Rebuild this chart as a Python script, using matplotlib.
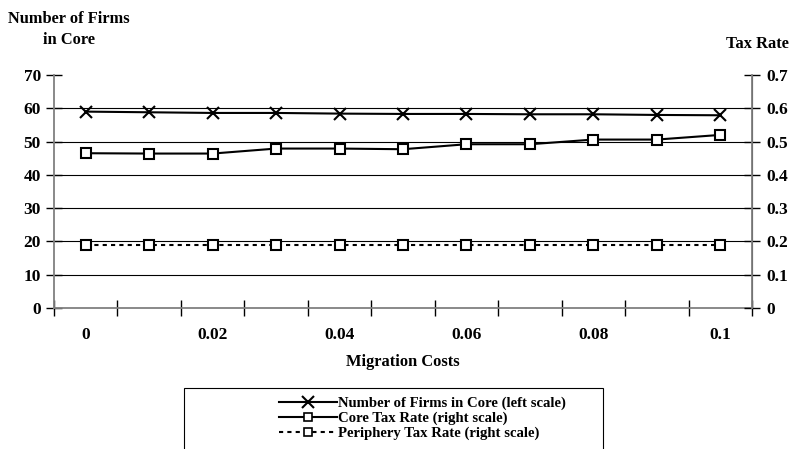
import matplotlib.pyplot as plt
from matplotlib.lines import Line2D
from matplotlib.patches import Rectangle

migration_costs = ["0", "0.01", "0.02", "0.03", "0.04", "0.05",
                   "0.06", "0.07", "0.08", "0.09", "0.1"]
firms_in_core = [59.0, 58.8, 58.6, 58.6, 58.4, 58.3, 58.3, 58.2, 58.2, 58.0, 57.9]
core_tax = [0.465, 0.464, 0.464, 0.479, 0.479, 0.477, 0.492, 0.492, 0.506, 0.506, 0.520]
periphery_tax = [0.19] * 11

left_ticks = [0, 10, 20, 30, 40, 50, 60, 70]
right_ticks = [0, 0.1, 0.2, 0.3, 0.4, 0.5, 0.6, 0.7]

plt.rcParams['font.family'] = ['Liberation Serif', 'DejaVu Serif']
plt.rcParams['font.weight'] = 'bold'

W, H = 792, 449
fig = plt.figure(figsize=(W / 100, H / 100), dpi=100)
ax = fig.add_axes([54 / W, 1 - 308 / H, (752 - 54) / W, (308 - 75) / H])
ax2 = ax.twinx()

x = list(range(len(migration_costs)))
gray = '#808080'
tick_fs = 12.5
title_fs = 11.8

# left axis: firms
ax.set_ylim(0, 70)
ax.set_xlim(-0.5, len(x) - 0.5)
ax.set_yticks(left_ticks)
ax.set_yticklabels([str(t) for t in left_ticks], fontsize=tick_fs, fontweight='bold')
ax.tick_params(axis='y', direction='inout', length=11, width=1, color='black', pad=4)

# category boundaries carry the tick marks, labels sit on every other category
ax.set_xticks([i - 0.5 for i in range(len(x) + 1)])
ax.set_xticklabels([])
ax.tick_params(axis='x', which='major', direction='inout', length=11, width=1, color='black')
ax.set_xticks(x[::2], minor=True)
ax.set_xticklabels(migration_costs[::2], minor=True, fontsize=tick_fs, fontweight='bold')
ax.tick_params(axis='x', which='minor', length=0, pad=14)

ax.grid(axis='y', color='black', linewidth=0.8)
gl = ax.get_ygridlines()
gl[0].set_visible(False)
gl[-1].set_visible(False)

ax.spines['top'].set_visible(False)
ax2.spines['top'].set_visible(False)
for sp in ['left', 'bottom']:
    ax.spines[sp].set_color(gray)
    ax.spines[sp].set_linewidth(1.3)
ax2.spines['right'].set_color(gray)
ax2.spines['right'].set_linewidth(1.3)
ax2.spines['left'].set_visible(False)
ax2.spines['bottom'].set_visible(False)

ax.plot(x, firms_in_core, color='black', linewidth=1.5, marker='x',
        markersize=9, markeredgewidth=1.5, zorder=5)

# right axis: tax rates
ax2.set_ylim(0, 0.7)
ax2.set_yticks(right_ticks)
ax2.set_yticklabels([("0" if t == 0 else f"{t:.1f}") for t in right_ticks],
                    fontsize=tick_fs, fontweight='bold')
ax2.tick_params(axis='y', direction='inout', length=11, width=1, color='black', pad=5)

ax2.plot(x, core_tax, color='black', linewidth=1.5, marker='s', markersize=7.5,
         markerfacecolor='white', markeredgecolor='black', markeredgewidth=1.5, zorder=5)
ax2.plot(x, periphery_tax, color='black', linewidth=1.5, linestyle=(0, (2, 2)),
         marker='s', markersize=7.5, markerfacecolor='white', markeredgecolor='black',
         markeredgewidth=1.5, zorder=5)

# titles
fig.text(69 / W, 1 - 19 / H, "Number of Firms", ha='center', va='center',
         fontsize=title_fs, fontweight='bold')
fig.text(69 / W, 1 - 40 / H, "in Core", ha='center', va='center',
         fontsize=title_fs, fontweight='bold')
fig.text(757 / W, 1 - 44 / H, "Tax Rate", ha='center', va='center',
         fontsize=title_fs, fontweight='bold')
fig.text(403 / W, 1 - 362 / H, "Migration Costs", ha='center', va='center',
         fontsize=title_fs, fontweight='bold')

# legend box
fig.patches.append(Rectangle((184 / W, 1 - 452 / H), (603 - 184) / W, (452 - 388) / H,
                             transform=fig.transFigure, facecolor='white',
                             edgecolor='black', linewidth=0.8))
handles = [
    Line2D([], [], color='black', linewidth=1.5, marker='x', markersize=8, markeredgewidth=1.5),
    Line2D([], [], color='black', linewidth=1.5, marker='s', markersize=6,
           markerfacecolor='white', markeredgewidth=1.2),
    Line2D([], [], color='black', linewidth=1.5, linestyle=(0, (2, 2)), marker='s',
           markersize=6, markerfacecolor='white', markeredgewidth=1.2),
]
labels = ["Number of Firms in Core (left scale)",
          "Core Tax Rate (right scale)",
          "Periphery Tax Rate (right scale)"]
fig.legend(handles, labels, loc='upper left', bbox_to_anchor=(272 / W, 1 - 389 / H),
           frameon=False, handlelength=3.9, handletextpad=0.1,
           labelspacing=0.12, borderpad=0, prop={'weight': 'bold', 'size': 10.6})

fig.savefig("out.png", dpi=100)
